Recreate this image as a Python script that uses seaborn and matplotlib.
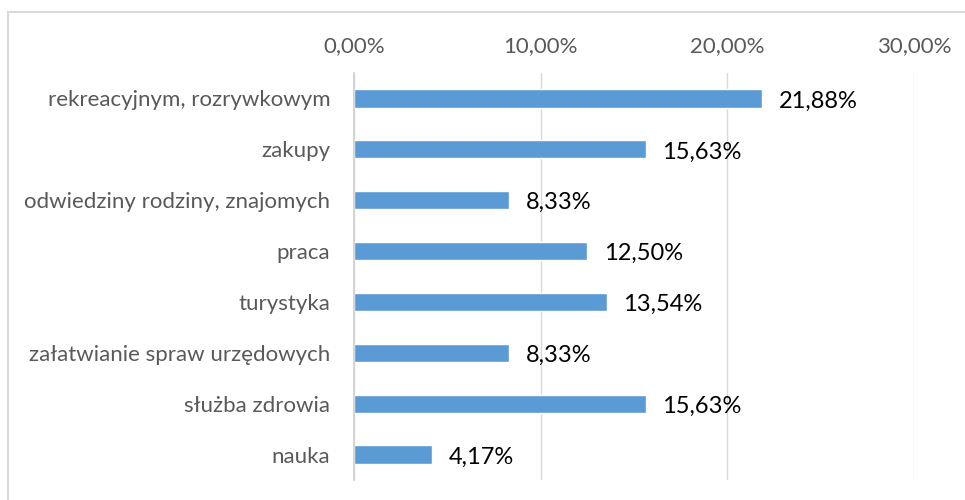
import matplotlib
matplotlib.use("Agg")
import matplotlib.pyplot as plt
import matplotlib.ticker as mticker
import seaborn as sns
import pandas as pd

categories = [
    "rekreacyjnym, rozrywkowym",
    "zakupy",
    "odwiedziny rodziny, znajomych",
    "praca",
    "turystyka",
    "załatwianie spraw urzędowych",
    "służba zdrowia",
    "nauka",
]
values = [21.88, 15.63, 8.33, 12.50, 13.54, 8.33, 15.63, 4.17]
x_ticks = [0, 10, 20, 30]

df = pd.DataFrame({"cel": categories, "proc": values})

sns.set_style("white")
plt.rcParams["font.family"] = ["Lato", "DejaVu Sans"]

fig = plt.figure(figsize=(9.65, 5), dpi=100)
ax = fig.add_axes([0.3668, 0.04, 0.947 - 0.3668, 0.814])

sns.barplot(data=df, x="proc", y="cel", orient="h", color="#5b9bd5",
            saturation=1, width=0.36, ax=ax)

ax.set_xlim(0, 30)
ax.set_ylim(7.5, -0.5)
ax.set_xticks(x_ticks)
ax.xaxis.set_major_formatter(mticker.FuncFormatter(
    lambda v, p: f"{v:.2f}".replace(".", ",") + "%"))
ax.xaxis.tick_top()
ax.tick_params(axis="x", length=0, pad=12, labelsize=16, labelcolor="#595959")
ax.tick_params(axis="y", length=0, pad=17, labelsize=16, labelcolor="#595959")
ax.set_xlabel("")
ax.set_ylabel("")

ax.grid(axis="x", color="#d9d9d9", linewidth=1)
ax.set_axisbelow(True)
for s in ["top", "right", "bottom"]:
    ax.spines[s].set_visible(False)
ax.spines["left"].set_color("#d0d0d0")
ax.spines["left"].set_linewidth(1.2)

for i, v in enumerate(values):
    ax.text(v + 0.9, i + 0.05, f"{v:.2f}".replace(".", ",") + "%",
            va="center", ha="left", fontsize=17, color="#000000")

# ramka wykresu (widoczna tylko z lewej i u góry)
fig.patches.append(plt.Rectangle((8 / 965, -0.1), 1.2, 1.1 - 12 / 500,
                                 transform=fig.transFigure, fill=False,
                                 edgecolor="#d9d9d9", linewidth=1.5))

fig.savefig("out.png", dpi=100)
